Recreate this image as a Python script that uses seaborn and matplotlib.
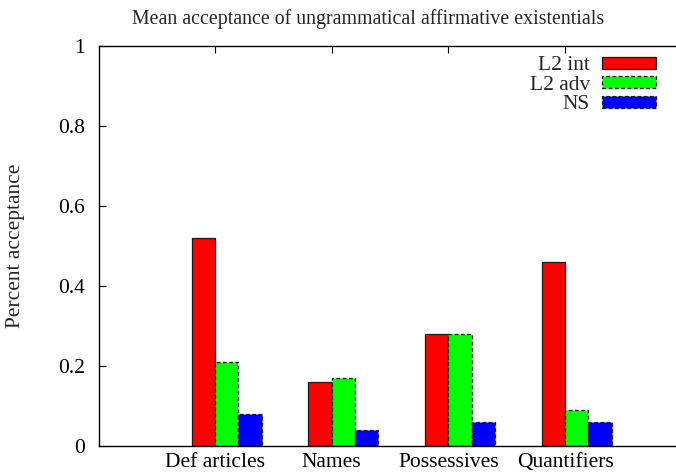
import matplotlib
matplotlib.use("Agg")
import matplotlib.pyplot as plt
import matplotlib.patches as mpatches
import seaborn as sns
import pandas as pd
import numpy as np

categories = ["Def articles", "Names", "Possessives", "Quantifiers"]
series = ["L2 int", "L2 adv", "NS"]
l2_int = [0.52, 0.16, 0.28, 0.46]
l2_adv = [0.21, 0.17, 0.28, 0.09]
ns = [0.08, 0.04, 0.06, 0.06]
yticks = [0, 0.2, 0.4, 0.6, 0.8, 1]
ytick_labels = ["0", "0.2", "0.4", "0.6", "0.8", "1"]

colors = {"L2 int": "#ff0000", "L2 adv": "#00ff00", "NS": "#0000ff"}
edge_styles = {"L2 int": "solid", "L2 adv": (0, (3, 2)), "NS": (0, (3, 2))}

df = pd.DataFrame({
    "category": categories * 3,
    "series": [s for s in series for _ in categories],
    "value": l2_int + l2_adv + ns,
})

sns.set_style("white")
plt.rcParams["font.family"] = ["Liberation Serif", "DejaVu Serif"]

W, H = 676, 475
fig = plt.figure(figsize=(W / 100, H / 100), dpi=100)
ax = fig.add_axes([99 / W, (H - 446) / H, 583.5 / W, 400 / H])

sns.barplot(data=df, x="category", y="value", hue="series", order=categories,
            hue_order=series, palette=colors, width=0.6, ax=ax, legend=False,
            saturation=1, errorbar=None)

for cont, s in zip(ax.containers, series):
    for bar in cont:
        bar.set_edgecolor("#1a1a1a")
        bar.set_linewidth(0.9)
        bar.set_linestyle(edge_styles[s])

ax.set_xlim(-1.094, 3.906)
ax.set_ylim(0, 1)
ax.set_xticks(np.arange(len(categories)) - 0.1)
ax.set_xticklabels(categories, fontsize=15.5)
ax.set_yticks(yticks)
ax.set_yticklabels(ytick_labels, fontsize=15.5)
ax.set_xlabel("")
ax.set_ylabel("Percent acceptance", fontsize=15.5, labelpad=24)
ax.set_title("Mean acceptance of ungrammatical affirmative existentials",
             fontsize=14.3, pad=16, x=(368 - 99) / 583.5)

ax.tick_params(direction="in", length=5, width=0.8, top=True, right=True,
               bottom=True, left=True, colors="black")
ax.tick_params(axis="y", pad=10)
ax.tick_params(axis="x", pad=5)
for sp in ax.spines.values():
    sp.set_visible(True)
    sp.set_color("black")
    sp.set_linewidth(1.0)

handles = [mpatches.Patch(facecolor=colors[s], edgecolor="#1a1a1a",
                          linestyle=edge_styles[s], linewidth=0.9, label=s)
           for s in series]
leg = ax.legend(handles=handles, loc="upper right", frameon=False,
                markerfirst=False, fontsize=15.5, handlelength=2.5,
                handleheight=0.47, labelspacing=0.02, handletextpad=0.56,
                borderaxespad=0, borderpad=0,
                bbox_to_anchor=((656 - 99) / 583.5, (446 - 56.5) / 400))

fig.savefig("out.png", dpi=100)
